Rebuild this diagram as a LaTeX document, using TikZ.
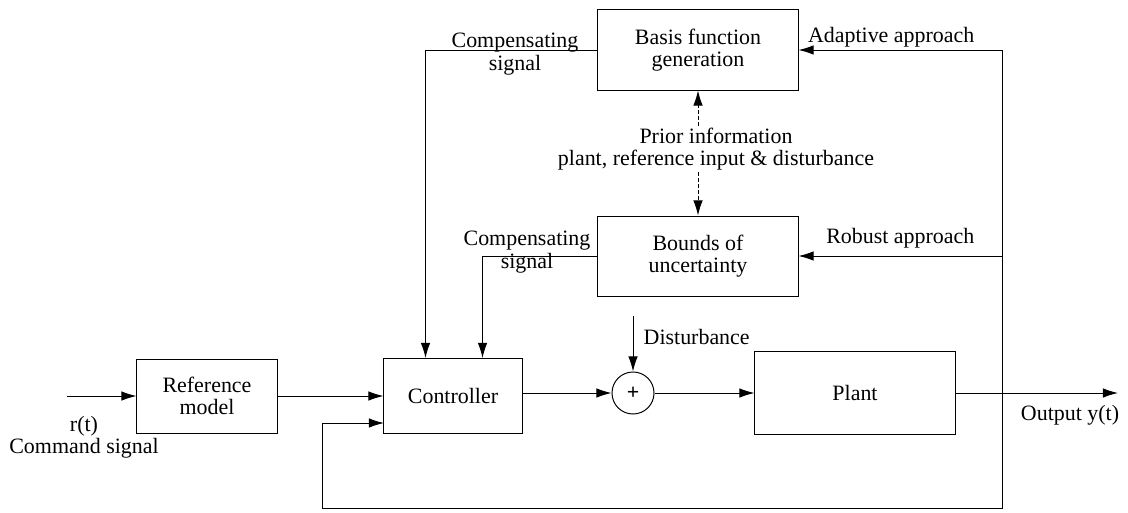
\documentclass[tikz,border=0pt]{standalone}
\usepackage{fontspec}
\setmainfont{Liberation Serif}
\usepackage{tikz}
\usetikzlibrary{arrows.meta, positioning, shapes.geometric}

\begin{document}
\begin{tikzpicture}[x=0.025cm, y=-0.025cm,
    every node/.style={font=\fontsize{15.6pt}{16pt}\selectfont},
    block/.style={draw, line width=0.7pt, minimum width=5cm, minimum height=2cm, align=center},
    sig/.style={line width=0.7pt, -{Latex[length=3.8mm, width=2.4mm]}},
    pri/.style={sig, dash pattern=on 3pt off 1.2pt},
    lbl/.style={align=center, inner sep=1pt}]
  \useasboundingbox (0,0) rectangle (1128,512);
  % upper blocks
  \node[block] (basis) at (698,50) {Basis function\\generation};
  \node[block] (bounds) at (698,256) {Bounds of\\uncertainty};
  \node[lbl] (prior) at (716,149) {Prior information\\plant, reference input \& disturbance};
  % main loop
  \node[block, minimum width=3.5cm, minimum height=1.85cm] (refm) at (207,396) {Reference\\model};
  \node[block, minimum width=3.45cm, minimum height=1.875cm] (ctrl) at (453,396) {Controller};
  \node[draw, circle, line width=0.7pt, minimum size=1.05cm, inner sep=0pt] (sum) at (633,393) {\textbf{+}};
  \node[block, minimum height=2.075cm] (plant) at (855,393) {Plant};
  % free ends
  \coordinate (in) at (67,396);
  \coordinate (out) at (1118,393);
  \coordinate (dist) at (633,316);
  \coordinate (railtop) at (1002,50);
  \coordinate (railmid) at (1002,256);
  \coordinate (railbot) at (1002,508);
  \coordinate (fbturn) at (322,508);
  \coordinate (ctrlfb) at (384,423);
  % labels
  \node[lbl, anchor=east] (adap) at (976,37) {Adaptive approach};
  \node[lbl, anchor=east] (rob) at (976,238) {Robust approach};
  \node[lbl] (compA) at (515,54) {Compensating\\signal};
  \node[lbl] (compB) at (527,252) {Compensating\\signal};
  \node[lbl, anchor=west] (distl) at (642,337) {Disturbance};
  \node[lbl] (cmd) at (84,437) {r(t)\\Command signal};
  \node[lbl] (outl) at (1070,415) {Output y(t)};
  % connectors
  \draw[sig] (in) -- (refm);
  \draw[sig] (refm) -- (ctrl);
  \draw[sig] (ctrl.east |- sum) -- (sum);
  \draw[sig] (sum) -- (plant.west |- sum);
  \draw[sig] (plant.east |- out) -- (out);
  \draw[sig] (dist) -- (sum.north);
  \draw[sig] (railtop) -- (basis.east);
  \draw[sig] (railmid) -- (bounds.east);
  \draw[sig] (railtop) -- (railbot) -- (fbturn) |- (ctrlfb);
  \draw[sig] (basis.west) -| ([xshift=1.05cm]ctrl.north west);
  \draw[sig] (bounds.west) -| ([xshift=2.475cm]ctrl.north west);
  \draw[pri] (prior.north -| basis) -- (basis.south);
  \draw[pri] (prior.south -| bounds) -- (bounds.north);
\end{tikzpicture}
\end{document}
